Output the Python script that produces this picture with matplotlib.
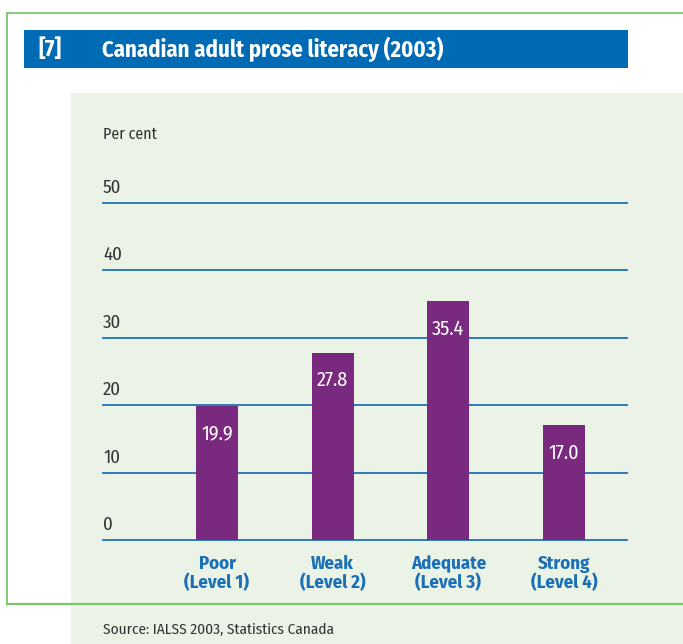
import matplotlib
matplotlib.use("Agg")
import matplotlib.pyplot as plt
from matplotlib.patches import Rectangle
from matplotlib.lines import Line2D

categories = ["Poor\n(Level 1)", "Weak\n(Level 2)", "Adequate\n(Level 3)", "Strong\n(Level 4)"]
values = [19.9, 27.8, 35.4, 17.0]
yticks = [0, 10, 20, 30, 40, 50]
title_num = "[7]"
title = "Canadian adult prose literacy (2003)"
ylabel = "Per cent"
source = "Source: IALSS 2003, Statistics Canada"

FONT = ["Fira Sans Condensed", "DejaVu Sans"]
plt.rcParams["font.family"] = FONT

W, H = 683, 644
fig = plt.figure(figsize=(W / 100, H / 100), dpi=100)
fig.patch.set_facecolor("white")

def fx(px):
    return px / W

def fy(py):
    return 1 - py / H

# light green panel
fig.add_artist(Rectangle((fx(71), 0), 1 - fx(71), fy(93), transform=fig.transFigure,
                         facecolor="#ebf3e7", edgecolor="none", zorder=0))
# green border (top, left, bottom)
gcol = "#7cc66a"
fig.add_artist(Line2D([fx(7), 1], [fy(13), fy(13)], transform=fig.transFigure, color=gcol, lw=1.3, zorder=1))
fig.add_artist(Line2D([fx(7), fx(7)], [fy(13), fy(604)], transform=fig.transFigure, color=gcol, lw=1.3, zorder=1))
fig.add_artist(Line2D([fx(7), 1], [fy(604), fy(604)], transform=fig.transFigure, color=gcol, lw=1.6, zorder=1))

# title bar
fig.add_artist(Rectangle((fx(24), fy(68)), fx(628) - fx(24), fy(30) - fy(68), transform=fig.transFigure,
                         facecolor="#006bb5", edgecolor="none", zorder=1))
fig.text(fx(38), fy(49), title_num, color="white", fontsize=16.3, fontweight="bold",
         va="center", ha="left", zorder=2)
fig.text(fx(102), fy(49), title, color="white", fontsize=16.3, fontweight="bold",
         va="center", ha="left", zorder=2)

# chart axes
ax_l, ax_r, ax_t, ax_b = 103, 627, 203, 540
ax = fig.add_axes([fx(ax_l), fy(ax_b), fx(ax_r) - fx(ax_l), fy(ax_t) - fy(ax_b)])
ax.set_facecolor("none")
for s in ax.spines.values():
    s.set_visible(False)
ax.set_ylim(0, 50)
x = list(range(len(values)))
step = (564 - 217) / 3
ax.set_xlim(-(217 - ax_l) / step, 3 + (ax_r - 564) / step)
ax.set_xticks([])
ax.set_yticks([])

for t in yticks:
    ax.axhline(t, color="#1f72b8", lw=1.3, zorder=1, clip_on=False)
    ax.annotate(str(t), xy=(0, t), xycoords=("axes fraction", "data"), xytext=(0, 4.5),
                textcoords="offset points", ha="left", va="bottom", fontsize=13.5, color="#333333")

bars = ax.bar(x, values, width=42 / step, color="#7a2a7e", zorder=2)
for xi, v in zip(x, values):
    ax.annotate(f"{v:.1f}", xy=(xi, v), xytext=(0, -13), textcoords="offset points",
                ha="center", va="top", fontsize=14.5, color="white", zorder=3)
for xi, c in zip(x, categories):
    ax.annotate(c, xy=(xi, 0), xytext=(0, -11), textcoords="offset points",
                ha="center", va="top", fontsize=13.5, fontweight="bold", color="#1a6fb5",
                linespacing=1.0, annotation_clip=False)

fig.text(fx(103), fy(134), ylabel, fontsize=11.5, color="#333333", ha="left", va="center")
fig.text(fx(103), fy(630), source, fontsize=11, color="#333333", ha="left", va="center")

fig.savefig("out.png", dpi=100, facecolor="white")
